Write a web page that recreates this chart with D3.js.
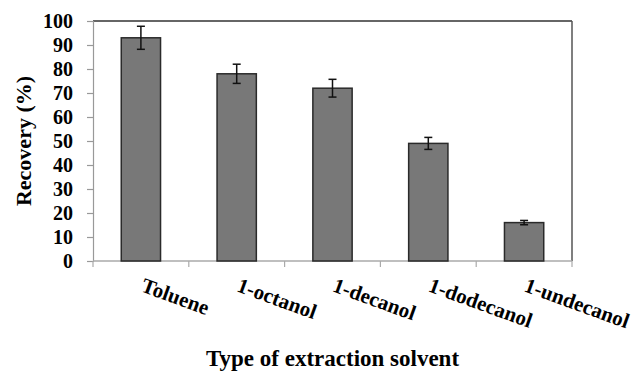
<!DOCTYPE html>
<html>
<head>
<meta charset="utf-8">
<script src="https://cdn.jsdelivr.net/npm/d3@7"></script>
<style>
  html, body { margin: 0; padding: 0; background: #fff; }
  svg { display: block; }
  text { font-family: "Liberation Serif", "Times New Roman", serif; font-weight: bold; fill: #000; }
</style>
</head>
<body>
<svg id="chart" width="634" height="371"></svg>
<script>
// Recovery of each extraction solvent (mean and standard deviation, %)
const solvents = ["Toluene", "1-octanol", "1-decanol", "1-dodecanol", "1-undecanol"];
const recovery = [93, 78, 72, 49, 16];
const errors = [4.8, 4.0, 3.7, 2.5, 0.9];
const yTicks = [0, 10, 20, 30, 40, 50, 60, 70, 80, 90, 100];

const svg = d3.select("#chart");
const margin = { left: 93, right: 62, top: 21, bottom: 110 };
const W = 634, H = 371;
const x0 = margin.left, x1 = W - margin.right;
const y0 = H - margin.bottom, y1 = margin.top;

const x = d3.scaleBand().domain(solvents).range([x0, x1]).paddingInner(0.59).paddingOuter(0.295);
const y = d3.scaleLinear().domain([0, 100]).range([y0, y1]);

// frame: top and right borders
svg.append("line").attr("x1", x0).attr("x2", x1).attr("y1", y1).attr("y2", y1)
  .attr("stroke", "#333").attr("stroke-width", 1.5);
svg.append("line").attr("x1", x1).attr("x2", x1).attr("y1", y1).attr("y2", y0)
  .attr("stroke", "#555").attr("stroke-width", 1.5);

// y axis
const yAxis = svg.append("g").attr("transform", `translate(${x0},0)`)
  .call(d3.axisLeft(y).tickValues(yTicks).tickSize(6).tickPadding(14));
yAxis.select(".domain").attr("stroke", "#999").attr("stroke-width", 1.2);
yAxis.selectAll(".tick line").attr("stroke", "#999").attr("stroke-width", 1.2);
yAxis.selectAll(".tick text").attr("font-size", 20)
  .style("font-family", '"Liberation Serif", serif').style("font-weight", "bold").attr("fill", "#000");

// x axis with boundary ticks between categories
const boundaries = d3.range(solvents.length + 1).map(i => x0 + i * (x1 - x0) / solvents.length);
svg.append("line").attr("x1", x0).attr("x2", x1).attr("y1", y0).attr("y2", y0)
  .attr("stroke", "#aaa").attr("stroke-width", 1.5);
svg.selectAll(".xtick").data(boundaries).enter().append("line")
  .attr("class", "xtick")
  .attr("x1", d => d).attr("x2", d => d).attr("y1", y0).attr("y2", y0 + 6)
  .attr("stroke", "#aaa").attr("stroke-width", 1.2);

// bars
svg.selectAll(".bar").data(solvents).enter().append("rect")
  .attr("class", "bar")
  .attr("x", d => x(d))
  .attr("y", (d, i) => y(recovery[i]))
  .attr("width", x.bandwidth())
  .attr("height", (d, i) => y(0) - y(recovery[i]))
  .attr("fill", "#787878").attr("stroke", "#2a2a2a").attr("stroke-width", 1.5);

// error bars
const eb = svg.selectAll(".err").data(solvents).enter().append("g").attr("class", "err");
const cx = d => x(d) + x.bandwidth() / 2;
eb.append("line")
  .attr("x1", cx).attr("x2", cx)
  .attr("y1", (d, i) => y(recovery[i] + errors[i]))
  .attr("y2", (d, i) => y(recovery[i] - errors[i]))
  .attr("stroke", "#111").attr("stroke-width", 1.5);
[1, -1].forEach(s => {
  eb.append("line")
    .attr("x1", d => cx(d) - 4).attr("x2", d => cx(d) + 4)
    .attr("y1", (d, i) => y(recovery[i] + s * errors[i]))
    .attr("y2", (d, i) => y(recovery[i] + s * errors[i]))
    .attr("stroke", "#111").attr("stroke-width", 1.5);
});

// rotated category labels
svg.selectAll(".xlab").data(solvents).enter().append("text")
  .attr("class", "xlab")
  .attr("font-size", 21)
  .attr("transform", d => `translate(${cx(d) - 1},${y0 + 30}) rotate(20)`)
  .attr("text-anchor", "start")
  .text(d => d);

// axis titles
svg.append("text")
  .attr("x", (x0 + x1) / 2).attr("y", 366)
  .attr("text-anchor", "middle").attr("font-size", 23)
  .text("Type of extraction solvent");

svg.append("text")
  .attr("transform", `translate(31,${(y0 + y1) / 2}) rotate(-90)`)
  .attr("text-anchor", "middle").attr("font-size", 22)
  .text("Recovery (%)");
</script>
</body>
</html>
